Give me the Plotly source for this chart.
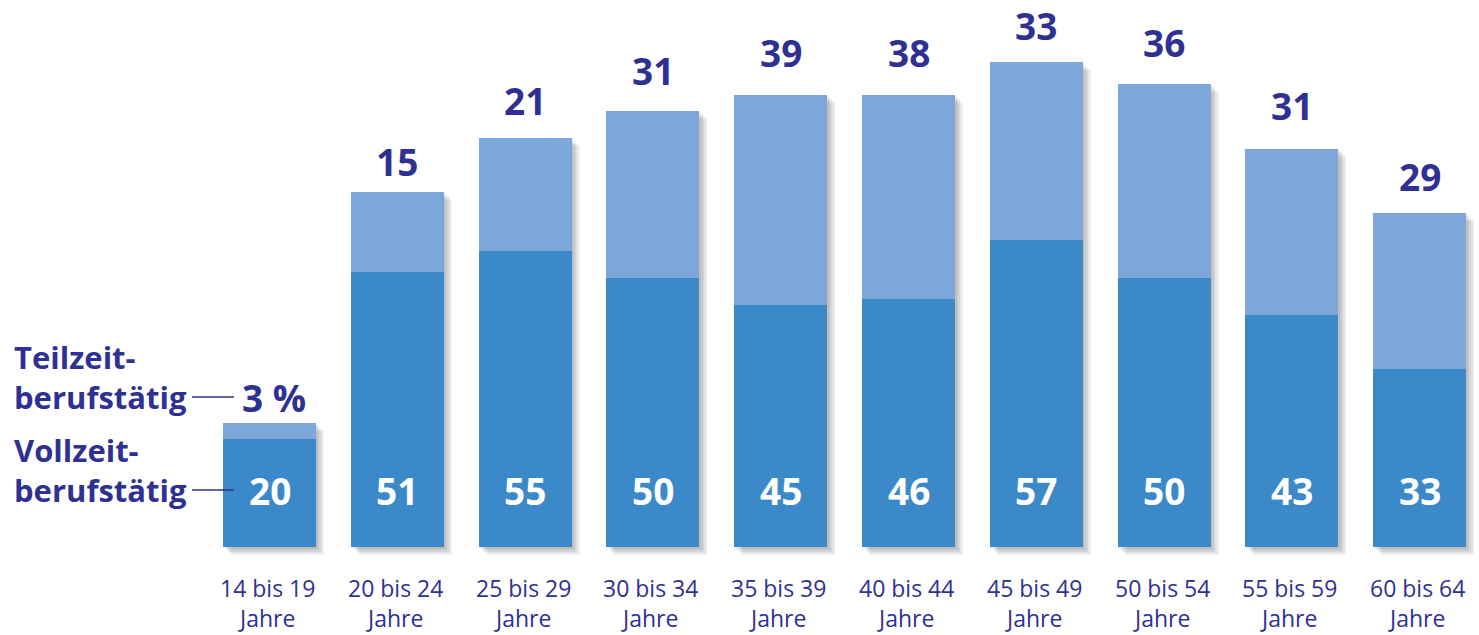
import plotly.graph_objects as go

categories = ["14 bis 19", "20 bis 24", "25 bis 29", "30 bis 34", "35 bis 39",
              "40 bis 44", "45 bis 49", "50 bis 54", "55 bis 59", "60 bis 64"]
vollzeit = [20, 51, 55, 50, 45, 46, 57, 50, 43, 33]
teilzeit = [3, 15, 21, 31, 39, 38, 33, 36, 31, 29]
teil_labels = ["3 %", "15", "21", "31", "39", "38", "33", "36", "31", "29"]

# styling: vertical gap (px) between bar top and centre of its label
label_gap_px = [26, 30, 37, 40, 42, 42, 37, 41, 43, 37]

W, H = 1479, 635
PX_X = 127.8          # px per category
PX_Y = 5.385          # px per percent
X0_PX = 269.5         # pixel centre of first category
BASE_PX = 547.0       # pixel of y=0

xr = [-X0_PX / PX_X, (W - X0_PX) / PX_X]
yr = [-(H - BASE_PX) / PX_Y, BASE_PX / PX_Y]

BW = 93 / PX_X
NAVY = "#2e3192"
DARK = "#3b89c8"
LIGHT = "#7ca7d8"
FONT = "Open Sans"

x = list(range(len(categories)))
totals = [v + t for v, t in zip(vollzeit, teilzeit)]

fig = go.Figure()

# soft drop shadow (several offset translucent layers)
for k in range(1, 6):
    dx = (1.6 * k) / PX_X
    dy = (1.6 * k) / PX_Y
    fig.add_trace(go.Bar(
        x=x, y=totals, base=[-dy] * len(x), width=BW, offset=-BW / 2 + dx,
        marker=dict(color="rgba(60,60,70,0.08)", line=dict(width=0)),
        hoverinfo="skip", showlegend=False))

fig.add_trace(go.Bar(
    x=x, y=vollzeit, base=[0] * len(x), width=BW, offset=-BW / 2,
    marker=dict(color=DARK, line=dict(width=0)), name="Vollzeit", showlegend=False))
fig.add_trace(go.Bar(
    x=x, y=teilzeit, base=vollzeit, width=BW, offset=-BW / 2,
    marker=dict(color=LIGHT, line=dict(width=0)), name="Teilzeit", showlegend=False))

ann = []
for i, (c, v, tl, tot, g) in enumerate(zip(categories, vollzeit, teil_labels, totals, label_gap_px)):
    ann.append(dict(x=i, y=tot, text=tl, showarrow=False, yshift=g, yanchor="middle",
                    xshift=4 if i == 0 else 0,
                    font=dict(family=FONT, size=37, color=NAVY, weight="bold")))
    ann.append(dict(x=i, y=0, text=str(v), showarrow=False, yshift=57, yanchor="middle",
                    font=dict(family=FONT, size=37, color="white", weight="bold")))
    ann.append(dict(x=i, y=0, text=c + "<br>Jahre", showarrow=False, yshift=-56,
                    yanchor="middle", xshift=-2,
                    font=dict(family=FONT, size=23, color=NAVY)))

# left legend labels
for text, ypx in [("Teilzeit-<br>berufstätig", 377), ("Vollzeit-<br>berufstätig", 470)]:
    ann.append(dict(xref="paper", yref="paper", x=12 / W, y=1 - ypx / H, text=text,
                    showarrow=False, xanchor="left", yanchor="middle", align="left",
                    font=dict(family=FONT, size=31, color=NAVY, weight="bold")))

shapes = [
    dict(type="line", xref="paper", yref="paper", x0=192 / W, x1=234 / W,
         y0=1 - 397 / H, y1=1 - 397 / H, line=dict(color=NAVY, width=1.5)),
    dict(type="line", xref="paper", yref="paper", x0=192 / W, x1=234 / W,
         y0=1 - 490 / H, y1=1 - 490 / H, line=dict(color=NAVY, width=1.5)),
]

fig.update_layout(
    width=W, height=H, barmode="overlay",
    margin=dict(l=0, r=0, t=0, b=0),
    paper_bgcolor="white", plot_bgcolor="white",
    xaxis=dict(range=xr, visible=False, fixedrange=True),
    yaxis=dict(range=yr, visible=False, fixedrange=True),
    annotations=ann, shapes=shapes, bargap=0,
)

fig.write_html("out.html", config={"displayModeBar": False},
               post_script="document.body.style.margin='0';document.body.style.overflow='hidden';")
